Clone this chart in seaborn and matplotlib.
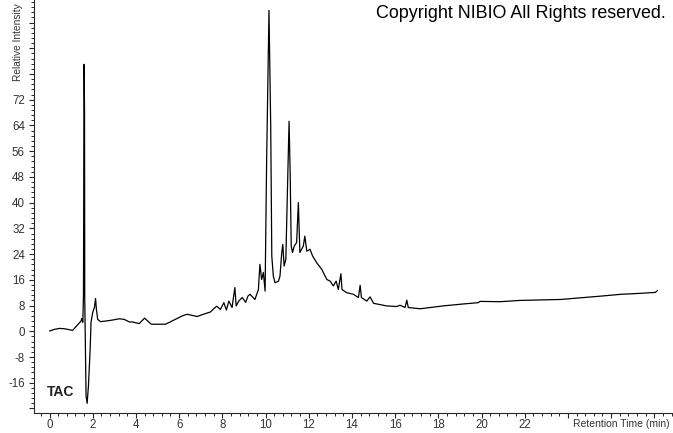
import numpy as np
import pandas as pd
import seaborn as sns
import matplotlib.pyplot as plt
from matplotlib.ticker import MultipleLocator, FuncFormatter

sns.set_theme(style="ticks")
plt.rcParams['font.family'] = ['Liberation Sans', 'DejaVu Sans']

# Chromatogram trace (retention time in min, relative intensity)
rt = [0.00, 0.23, 0.46, 0.68, 0.92, 1.07, 1.23, 1.35, 1.46, 1.49, 1.54,
      1.57, 1.60, 1.62, 1.63, 1.69, 1.74, 1.80, 1.88, 1.92, 2.00, 2.08,
      2.13, 2.17, 2.23, 2.36, 2.61, 2.92, 3.23, 3.46, 3.70, 3.84, 4.15,
      4.40, 4.71, 5.37, 6.15, 6.37, 6.83, 7.21, 7.45, 7.60, 7.74, 7.91,
      8.07, 8.19, 8.30, 8.45, 8.58, 8.64, 8.76, 8.92, 9.08, 9.19, 9.28,
      9.51, 9.67, 9.74, 9.82, 9.90, 9.98, 10.05, 10.16, 10.24, 10.29,
      10.36, 10.44, 10.60, 10.67, 10.75, 10.80, 10.86, 10.94, 11.03,
      11.09, 11.14, 11.19, 11.25, 11.33, 11.44, 11.52, 11.59, 11.75,
      11.82, 11.91, 12.06, 12.18, 12.37, 12.60, 12.84, 12.99, 13.14,
      13.27, 13.37, 13.49, 13.54, 13.76, 14.07, 14.30, 14.38, 14.44,
      14.69, 14.84, 15.00, 15.23, 15.60, 16.07, 16.23, 16.46, 16.54,
      16.61, 17.16, 17.39, 18.23, 19.16, 19.85, 19.93, 20.86, 21.78,
      23.67, 25.46, 26.45, 27.35, 28.05, 28.15]
intensity = [0.1, 0.6, 0.9, 0.8, 0.5, 0.3, 1.5, 2.4, 3.2, 4.0, 2.8,
             11.0, 83.0, 68.0, 10.0, -20.0, -22.4, -17.0, -5.6, 2.8, 5.9, 7.5,
             10.2, 6.8, 3.7, 3.0, 3.2, 3.5, 3.9, 3.7, 2.9, 2.9, 2.4,
             4.1, 2.2, 2.2, 4.8, 5.3, 4.6, 5.5, 6.0, 7.0, 7.8, 6.8,
             8.9, 6.6, 9.4, 7.4, 13.6, 7.9, 9.4, 10.5, 9.0, 11.0, 11.5,
             9.9, 13.0, 20.8, 16.1, 18.3, 12.5, 52.5, 99.8, 63.8, 23.4,
             17.2, 15.1, 15.6, 17.2, 24.4, 27.0, 20.3, 22.4, 48.2,
             65.3, 49.3, 26.5, 24.5, 26.5, 27.6, 40.0, 24.5, 26.5,
             29.6, 24.9, 25.5, 23.4, 21.3, 19.3, 16.1, 15.6, 14.1,
             15.6, 13.0, 17.9, 13.0, 12.0, 11.5, 10.5, 14.3, 10.5,
             9.4, 10.7, 8.7, 8.4, 7.9, 7.7, 8.1, 7.4, 9.7,
             7.4, 7.0, 7.2, 7.9, 8.5, 8.9, 9.3, 9.2, 9.6,
             9.9, 10.9, 11.5, 11.8, 12.1, 12.7]

x_ticks = list(range(0, 24, 2))
y_ticks = [-16, -8, 0, 8, 16, 24, 32, 40, 48, 56, 64, 72]

df = pd.DataFrame({"rt": rt, "intensity": intensity})

fig = plt.figure(figsize=(6.73, 4.33), dpi=100)
ax = fig.add_axes([34 / 673, 20 / 433, 638 / 673, 413 / 433])

sns.lineplot(data=df, x="rt", y="intensity", sort=False, estimator=None,
             color="black", linewidth=0.9, ax=ax)

ax.set_xlim(-0.72, 28.82)
ax.set_ylim(-25.4, 103.0)
sns.despine(ax=ax)
ax.spines['left'].set_linewidth(0.8)
ax.spines['bottom'].set_linewidth(0.8)

ax.xaxis.set_major_locator(MultipleLocator(2))
ax.xaxis.set_minor_locator(MultipleLocator(0.4))
ax.yaxis.set_major_locator(MultipleLocator(8))
ax.yaxis.set_minor_locator(MultipleLocator(1.6))
ax.xaxis.set_major_formatter(FuncFormatter(
    lambda v, p: f"{v:.0f}" if round(v) in x_ticks else ""))
ax.yaxis.set_major_formatter(FuncFormatter(
    lambda v, p: f"{v:.0f}" if round(v) in y_ticks else ""))
ax.tick_params(which="major", length=3.5, width=0.8, labelsize=8.3,
               labelcolor="#333333")
ax.tick_params(axis="y", which="major", pad=3)
ax.tick_params(axis="x", which="major", pad=0.5)
ax.tick_params(which="minor", length=2.2, width=0.7)
ax.set_xlabel("")
ax.set_ylabel("")

fig.text(1 - 3 / 673, 1 - 424 / 433, "Retention Time (min)", ha="right",
         va="center", fontsize=7.5, color="#333333")
fig.text(18 / 673, 1 - 81 / 433, "Relative Intensity", rotation=90,
         ha="center", va="bottom", fontsize=7.3, color="#333333")
fig.text(47 / 673, 1 - 392 / 433, "TAC", ha="left", va="center",
         fontsize=10, fontweight="bold", color="#222222")
fig.text(376 / 673, 1 - 14 / 433, "Copyright NIBIO All Rights reserved.",
         ha="left", va="center", fontsize=12.9, color="black")

fig.savefig("out.png", dpi=100)
